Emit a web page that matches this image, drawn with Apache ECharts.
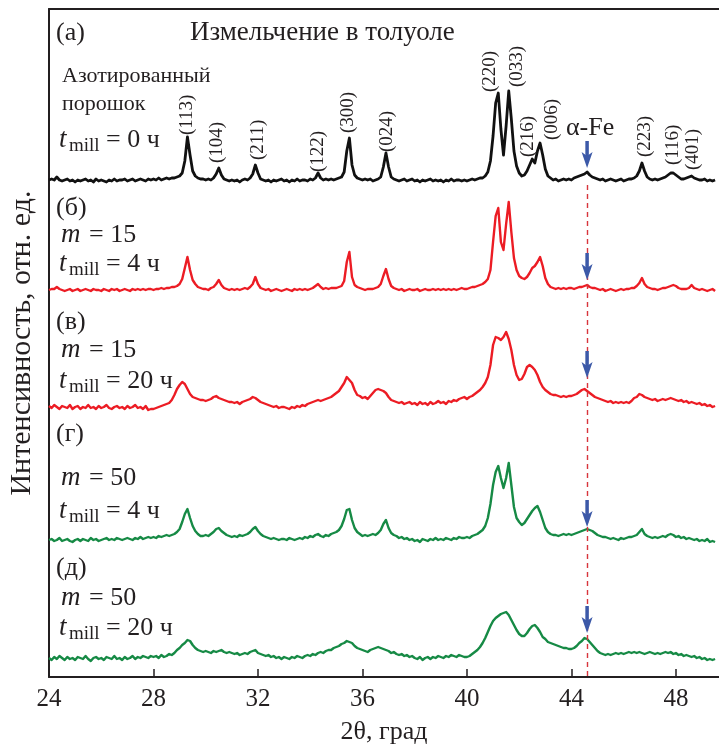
<!DOCTYPE html>
<html>
<head>
<meta charset="utf-8">
<script src="https://cdn.jsdelivr.net/npm/echarts@6/dist/echarts.min.js"></script>
<style>
  html, body { margin: 0; padding: 0; background: #fff; }
  #chart { width: 719px; height: 744px; }
</style>
</head>
<body>
<div id="chart"></div>
<script>
// 2θ grid of the scans: first angle and step, degrees
const angleStart = 24.0;
const angleStep = 0.1;

// Intensities above each pattern's own baseline (arb. units), one row per degree
const patternNitrided = [
  1, 2, 1, 4, 1, 0, 1, 2, 0, 1,
  -1, 1, 0, 1, 2, 0, 1, -1, 2, 0,
  1, 0, -1, 1, 0, 2, 0, 1, 1, 2,
  0, 1, 2, 0, 1, 2, 1, 0, 2, 1,
  2, 1, 3, 1, 2, 3, 2, 3, 3, 4,
  5, 8, 20, 44, 26, 10, 5, 3, 2, 2,
  1, 2, 1, 3, 7, 13, 6, 2, 1, 0,
  1, 0, 1, -1, 1, 2, 1, 3, 7, 16,
  8, 2, 1, 0, 1, -1, 1, 0, 1, 2,
  0, 1, -1, 1, 0, 2, 0, 1, 1, 0,
  2, 1, 3, 8, 3, 1, 2, 1, 2, 1,
  2, 3, 4, 9, 30, 43, 16, 6, 3, 2,
  1, 2, 1, 2, 0, 1, 2, 4, 14, 28,
  14, 4, 2, 1, 0, 1, 2, 0, 1, 2,
  0, 1, -1, 1, 0, 1, 2, 0, 1, 0,
  1, -1, 1, 0, 2, 0, 1, 1, 0, 1,
  0, 1, 2, 1, 2, 3, 3, 5, 9, 20,
  45, 78, 88, 52, 26, 55, 90, 62, 30, 15,
  8, 5, 6, 10, 16, 22, 18, 30, 38, 26,
  12, 5, 3, 1, 2, 0, 1, 2, 1, 2,
  1, 3, 4, 5, 6, 7, 9, 6, 4, 3,
  2, 1, 2, 0, 1, 2, 1, 0, 1, 2,
  0, 1, 2, 2, 3, 5, 10, 18, 10, 4,
  2, 1, 2, 1, 2, 3, 4, 6, 8, 8,
  6, 4, 2, 2, 3, 4, 5, 3, 2, 1,
  1, 2, 0, 1, 0, 1
];

const patternM15T4 = [
  0, 1, 1, 3, 1, 0, -1, 0, 1, -1,
  0, 1, -1, 0, 1, 0, -1, 1, 0, 0,
  -1, 1, 0, -1, 1, 0, 1, -1, 0, 1,
  0, -1, 1, 0, 1, 0, 1, 0, 1, 1,
  0, 1, 1, 2, 1, 2, 2, 3, 3, 4,
  6, 11, 22, 33, 20, 10, 6, 3, 2, 1,
  1, 0, 2, 3, 6, 10, 5, 2, 1, 0,
  1, 0, 1, 0, 1, 2, 1, 3, 6, 13,
  6, 2, 1, 0, 1, -1, 0, 1, 0, -1,
  0, 1, 0, -1, 1, 0, 1, 0, 1, 0,
  1, 2, 4, 6, 3, 1, 2, 1, 2, 2,
  2, 3, 4, 9, 28, 38, 13, 5, 3, 2,
  1, 0, 1, 1, 1, 2, 3, 6, 14, 21,
  11, 4, 2, 1, 0, 1, -1, 0, 1, 0,
  0, 1, -1, 0, 1, 0, 0, 1, 0, 1,
  0, 1, 0, 1, 0, 1, 0, 1, 2, 1,
  1, 2, 3, 3, 4, 5, 6, 8, 11, 20,
  48, 74, 82, 48, 40, 66, 88, 58, 32, 20,
  14, 12, 11, 13, 17, 22, 24, 28, 33, 24,
  12, 6, 3, 2, 1, 2, 1, 2, 1, 2,
  2, 1, 2, 3, 3, 4, 5, 3, 2, 2,
  1, 0, 1, -1, 0, 1, 0, -1, 0, 1,
  0, 1, 1, 2, 2, 4, 7, 12, 6, 3,
  2, 1, 1, 0, 1, 2, 2, 3, 4, 5,
  4, 2, 1, 1, 1, 2, 5, 2, 1, 0,
  1, 0, -1, 0, 1, -1
];

const patternM15T20 = [
  1, -1, 2, 0, -2, 1, 0, -1, 2, -2,
  0, 1, -2, 0, -1, 2, -1, 0, -2, 1,
  -1, 0, 2, -1, -2, 0, 1, -1, 0, -2,
  1, -1, 0, 2, -1, 0, -2, 1, -3, -2,
  -2, -1, 0, 1, 2, 3, 4, 7, 12, 18,
  22, 25, 23, 18, 13, 10, 9, 8, 7, 7,
  6, 7, 8, 10, 11, 9, 8, 7, 6, 5,
  5, 4, 5, 3, 5, 6, 7, 8, 10, 9,
  7, 5, 4, 3, 2, 1, 0, 1, -1, 0,
  0, -1, -2, 0, -1, 1, 0, 2, 1, 3,
  4, 5, 6, 7, 6, 7, 8, 9, 10, 12,
  14, 16, 20, 24, 30, 27, 24, 17, 12, 11,
  9, 10, 8, 11, 14, 17, 18, 17, 16, 14,
  10, 7, 6, 5, 4, 5, 3, 4, 5, 3,
  4, 2, 5, 3, 4, 2, 5, 3, 4, 6,
  4, 5, 3, 6, 5, 7, 6, 8, 9, 10,
  8, 10, 11, 13, 15, 17, 20, 24, 30, 42,
  62, 70, 69, 67, 70, 75, 68, 57, 42, 32,
  27, 28, 33, 40, 42, 40, 37, 32, 25, 20,
  17, 15, 13, 12, 12, 11, 10, 11, 10, 11,
  11, 12, 13, 15, 17, 18, 16, 14, 12, 10,
  9, 8, 7, 6, 5, 6, 4, 5, 4, 5,
  4, 5, 4, 6, 9, 10, 13, 12, 10, 9,
  8, 7, 8, 6, 7, 8, 7, 8, 9, 8,
  7, 6, 7, 5, 6, 4, 5, 4, 3, 4,
  2, 3, 1, 2, 0, 1
];

const patternM50T4 = [
  0, 1, -1, 0, 2, -1, 0, 1, -1, -2,
  0, 1, -1, 1, 0, -1, 2, 0, 1, -1,
  0, 1, 2, 0, 1, 0, 2, 1, 0, 1,
  2, 1, 0, 2, 1, 3, 1, 2, 3, 2,
  3, 2, 4, 3, 4, 5, 4, 5, 6, 8,
  11, 18, 26, 31, 22, 14, 9, 6, 4, 4,
  5, 4, 6, 8, 11, 12, 9, 7, 5, 4,
  3, 4, 3, 5, 4, 5, 6, 8, 11, 13,
  9, 6, 4, 3, 2, 1, 2, 1, 0, 1,
  1, 0, 2, 1, 0, 1, 2, 1, 3, 2,
  4, 3, 5, 6, 4, 3, 5, 4, 6, 7,
  8, 10, 14, 21, 30, 31, 20, 12, 8, 6,
  4, 5, 4, 5, 6, 5, 7, 10, 16, 20,
  12, 7, 5, 4, 2, 3, 1, 2, 0, 1,
  -1, 0, -2, 1, 0, -1, 1, 0, 2, 0,
  1, 0, 2, 1, 0, 2, 1, 3, 2, 2,
  3, 2, 4, 5, 6, 8, 10, 14, 22, 36,
  55, 68, 74, 62, 52, 62, 77, 55, 33, 22,
  18, 15, 17, 21, 25, 29, 32, 34, 28, 20,
  12, 8, 6, 5, 5, 4, 5, 6, 5, 6,
  5, 6, 7, 8, 9, 10, 11, 10, 9, 7,
  5, 4, 3, 3, 2, 1, 2, 1, 0, 2,
  1, 2, 3, 3, 4, 5, 8, 11, 6, 4,
  3, 2, 3, 2, 3, 4, 3, 5, 6, 5,
  3, 4, 2, 3, 1, 2, 1, 0, 1, -1,
  0, -1, 1, -2, -1, -2
];

const patternM50T20 = [
  0, -2, 1, -1, 2, 0, -2, 1, -1, 0,
  -2, 1, 0, -1, 2, -1, -3, 0, 1, -1,
  0, -2, 1, 0, -1, 2, -1, 0, -2, 1,
  -1, 0, 2, -1, 1, 0, 2, 1, 0, 2,
  1, 2, 0, 3, 1, 2, 4, 3, 5, 8,
  10, 13, 15, 18, 17, 13, 10, 8, 7, 6,
  7, 6, 5, 7, 6, 7, 8, 6, 5, 6,
  5, 4, 5, 3, 4, 5, 4, 6, 7, 8,
  5, 4, 3, 2, 3, 1, 2, 0, 1, -1,
  1, 0, -1, 1, 0, 2, 1, 0, 2, 3,
  2, 4, 3, 5, 6, 5, 7, 8, 8, 10,
  11, 12, 14, 15, 17, 16, 15, 12, 10, 9,
  8, 7, 6, 8, 9, 10, 11, 10, 9, 8,
  7, 5, 6, 4, 3, 4, 2, 3, 1, 2,
  0, -1, 1, -2, 0, 1, -1, 1, 0, 2,
  1, 0, 2, 1, 3, 2, 1, 3, 2, 1,
  1, 2, 4, 6, 8, 11, 15, 20, 26, 32,
  37, 40, 42, 44, 45, 46, 43, 38, 33, 28,
  24, 22, 22, 25, 29, 32, 33, 30, 26, 21,
  19, 16, 15, 14, 13, 12, 11, 10, 10, 9,
  9, 10, 12, 15, 17, 20, 19, 16, 13, 10,
  7, 5, 4, 3, 4, 3, 4, 5, 4, 5,
  4, 5, 6, 5, 6, 5, 6, 5, 4, 5,
  6, 5, 4, 5, 4, 5, 6, 5, 6, 4,
  5, 3, 4, 2, 3, 2, 1, 2, 0, 1,
  -1, 0, -2, -1, -2, -1
];

// Vertical offsets used to stack the patterns (same units as the intensities)
const stackOffsets = [496, 387, 270, 137, 19];

// α-Fe (110) reflection position and the height of each arrow tip above its pattern
const alphaFeAngle = 44.6;
const alphaFeArrowTip = [13, 10, 29, 13, 25];

// Miller indices of the nitride reflections
const hklText = ['(113)', '(104)', '(211)', '(122)', '(300)', '(024)', '(220)',
                 '(033)', '(216)', '(006)', '(223)', '(116)', '(401)'];

// Panel captions
const panelLetters = ['(а)', '(б)', '(в)', '(г)', '(д)'];
const panelMass = ['', '15', '15', '50', '50'];
const panelTime = ['0 ч', '4 ч', '20 ч', '4 ч', '20 ч'];

const xTicks = [24, 28, 32, 36, 40, 44, 48];

const patterns = [patternNitrided, patternM15T4, patternM15T20, patternM50T4, patternM50T20];
const colors = ['#111111', '#ec1c24', '#ec1c24', '#168a45', '#168a45'];
const widths = [2.8, 2.4, 2.4, 2.4, 2.4];

const SERIF = '"Liberation Serif", "Times New Roman", serif';
const INK = '#231f20';

function toSeries(values, offset) {
  return values.map((v, i) => [+(angleStart + i * angleStep).toFixed(2), v + offset]);
}

function txt(str, x, y, size, opt) {
  opt = opt || {};
  return {
    type: 'text', x: x, y: y, rotation: opt.rot || 0, silent: true, z: 10,
    style: {
      text: str,
      font: (opt.italic ? 'italic ' : '') + size + 'px ' + SERIF,
      fill: INK,
      textAlign: opt.align || 'left',
      textVerticalAlign: 'middle'
    }
  };
}

function tmill(x, y, rest) {
  return [
    txt('t', x, y, 27, { italic: true }),
    txt('mill', x + 10, y + 6, 19),
    txt('= ' + rest, x + 47, y, 26)
  ];
}

function mLine(x, y, val) {
  return [
    txt('m', x, y, 27, { italic: true }),
    txt('= ' + val, x + 28, y, 26)
  ];
}

// Layout of the captions
const captionRows = [
  { letter: 33, m: null, t: 140 },
  { letter: 208, m: 235, t: 264 },
  { letter: 322, m: 350, t: 381 },
  { letter: 434, m: 478, t: 511 },
  { letter: 568, m: 598, t: 628 }
];

// Center x and lower end y of the rotated hkl labels
const hklPlace = [[187, 135], [217, 163], [258, 160], [318, 172], [348, 133], [387, 152],
                  [490, 92], [517, 87], [528, 157], [552, 140], [645, 157], [673, 165], [693, 170]];

const graphics = [];
captionRows.forEach((r, i) => {
  graphics.push(txt(panelLetters[i], 56, r.letter, 26));
  if (r.m !== null) graphics.push(...mLine(61, r.m, panelMass[i]));
  graphics.push(...tmill(59, r.t, panelTime[i]));
});
graphics.push(txt('Измельчение в толуоле', 190, 33, 27));
graphics.push(txt('Азотированный', 62, 76, 22));
graphics.push(txt('порошок', 62, 104, 22));
graphics.push(txt('α-Fe', 566, 128, 26));
hklText.forEach((h, i) => {
  graphics.push(txt(h, hklPlace[i][0], hklPlace[i][1], 19, { rot: Math.PI / 2 }));
});

const chart = echarts.init(document.getElementById('chart'), null, { renderer: 'canvas' });

const series = patterns.map((p, i) => ({
  type: 'line',
  data: toSeries(p, stackOffsets[i]),
  showSymbol: false,
  symbol: 'none',
  smooth: false,
  lineStyle: { color: colors[i], width: widths[i], join: 'round' },
  z: 3,
  animation: false
}));

// Dashed guide at the α-Fe position
series.push({
  type: 'line',
  data: [],
  markLine: {
    silent: true,
    symbol: ['none', 'none'],
    label: { show: false },
    lineStyle: { color: '#d8353c', type: [5, 4], width: 1.4 },
    data: [[{ coord: [alphaFeAngle, stackOffsets[0] - 4] }, { coord: [alphaFeAngle, 0] }]]
  },
  z: 4
});

// Blue arrows pointing at the α-Fe reflection
series.push({
  type: 'custom',
  data: alphaFeArrowTip.map((h, i) => [alphaFeAngle, stackOffsets[i] + h]),
  z: 6,
  silent: true,
  renderItem: function (params, api) {
    const p = api.coord([api.value(0), api.value(1)]);
    const c = '#3c59a8';
    return {
      type: 'group',
      children: [
        { type: 'line', shape: { x1: p[0], y1: p[1] - 27, x2: p[0], y2: p[1] - 12 },
          style: { stroke: c, lineWidth: 3.5 } },
        { type: 'polygon',
          shape: { points: [[p[0] - 5.5, p[1] - 16], [p[0], p[1] - 12], [p[0] + 5.5, p[1] - 16], [p[0], p[1]]] },
          style: { fill: c } }
      ]
    };
  }
});

chart.setOption({
  animation: false,
  backgroundColor: '#ffffff',
  grid: { left: 49, right: 0, top: 9, bottom: 67, containLabel: false, outerBoundsMode: 'none' },
  xAxis: [
    {
      type: 'value', min: 24, max: 49.65, interval: 4,
      name: '2θ, град', nameLocation: 'middle', nameGap: 42,
      nameTextStyle: { fontFamily: SERIF, fontSize: 26, color: INK },
      axisLine: { show: true, onZero: false, lineStyle: { color: INK, width: 2 } },
      axisTick: { show: true, inside: true, length: 8, lineStyle: { color: INK, width: 1.5 } },
      axisLabel: {
        fontFamily: SERIF, fontSize: 25, color: INK, margin: 10,
        showMaxLabel: false,
        formatter: v => (xTicks.indexOf(Math.round(v * 100) / 100) >= 0 ? String(v) : '')
      },
      splitLine: { show: false }
    },
    {
      type: 'value', min: 24, max: 49.65, position: 'top',
      axisLine: { show: true, onZero: false, lineStyle: { color: INK, width: 2 } },
      axisTick: { show: false }, axisLabel: { show: false }, splitLine: { show: false }
    }
  ],
  yAxis: {
    type: 'value', min: 0, max: 668,
    name: 'Интенсивность, отн. ед.', nameLocation: 'middle', nameGap: 12,
    nameTextStyle: { fontFamily: SERIF, fontSize: 30, color: INK },
    axisLine: { show: true, onZero: false, lineStyle: { color: INK, width: 2 } },
    axisTick: { show: false }, axisLabel: { show: false }, splitLine: { show: false }
  },
  graphic: graphics,
  series: series
});
</script>
</body>
</html>
